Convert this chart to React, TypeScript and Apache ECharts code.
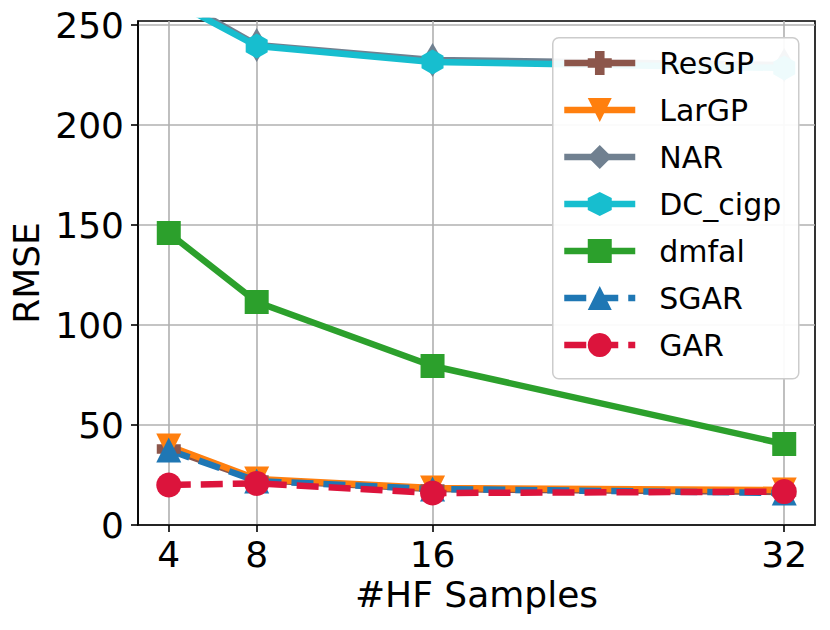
import React, { useEffect, useRef } from "react";
import * as echarts from "echarts";

const xTicks = [4, 8, 16, 32];
const yTicks = [0, 50, 100, 150, 200, 250];
const seriesNames = ["ResGP", "LarGP", "NAR", "DC_cigp", "dmfal", "SGAR", "GAR"];

const resgpValues = [38, 22.5, 18, 16.5];
const largpValues = [39.5, 23, 18.5, 17.5];
const narValues = [265, 240, 232.5, 230];
const dcCigpValues = [263, 239.5, 231.5, 228.5];
const dmfalValues = [146, 111.5, 79.5, 40.5];
const sgarValues = [37.5, 22, 18, 16];
const garValues = [20, 20.8, 16, 16.7];

const FONT = "DejaVu Sans";

const PLUS = "path://M6,0H14V6H20V14H14V20H6V14H0V6H6Z";
const HEX = "path://M0.866,0L1.732,0.5L1.732,1.5L0.866,2L0,1.5L0,0.5Z";

function pairs(vals: number[]) {
  return xTicks.map((x, i) => [x, vals[i]]);
}

const LW = 6.5;

function buildSeries(withData: boolean) {
  const mk = (
    name: string,
    vals: number[],
    color: string,
    symbol: string,
    symbolSize: any,
    dashed: boolean,
    rotate = 0
  ) => ({
    name,
    type: "line",
    data: withData ? pairs(vals) : [],
    symbol,
    symbolSize,
    symbolRotate: rotate,
    showSymbol: true,
    clip: true,
    lineStyle: { color, width: LW, type: dashed ? [22, 10] : "solid" },
    itemStyle: { color, opacity: 1 },
    emphasis: { disabled: true },
  });
  return [
    mk(seriesNames[0], resgpValues, "#8c564b", PLUS, 24, false),
    mk(seriesNames[1], largpValues, "#ff7f0e", "triangle", 25, false, 180),
    mk(seriesNames[2], narValues, "#708090", "diamond", [20, 34], false),
    mk(seriesNames[3], dcCigpValues, "#17becf", HEX, [22, 25], false),
    mk(seriesNames[4], dmfalValues, "#2ca02c", "rect", 24, false),
    mk(seriesNames[5], sgarValues, "#1f77b4", "triangle", 25, true),
    mk(seriesNames[6], garValues, "#dc143c", "circle", 25, true),
  ];
}

const GRID = { left: 138, right: 15, top: 21, bottom: 105 };

export default function App() {
  const ref = useRef<HTMLDivElement>(null);
  const ref2 = useRef<HTMLDivElement>(null);
  useEffect(() => {
    document.body.style.margin = "0";
    const chart = echarts.init(ref.current!, null, { renderer: "svg" });
    const chart2 = echarts.init(ref2.current!, null, { renderer: "svg" });
    chart.setOption({
      animation: false,
      backgroundColor: "#ffffff",
      textStyle: { fontFamily: FONT },
      grid: {
        ...GRID,
        show: true,
        borderColor: "#000000",
        borderWidth: 1.6,
        containLabel: false,
      },
      xAxis: {
        type: "value",
        min: 2.6,
        max: 33.4,
        name: "#HF Samples",
        nameLocation: "middle",
        nameGap: 50,
        nameTextStyle: { fontSize: 36, color: "#000000", fontFamily: FONT },
        axisLine: { show: true, onZero: false, lineStyle: { color: "#000000", width: 1.6 } },
        axisTick: {
          show: true,
          customValues: xTicks,
          length: 7,
          lineStyle: { color: "#000000", width: 1.6 },
        },
        axisLabel: {
          customValues: xTicks,
          fontSize: 36,
          color: "#000000",
          margin: 11,
          fontFamily: FONT,
        },
        splitLine: { show: true, lineStyle: { color: "#b0b0b0", width: 1.6 } },
      },
      yAxis: {
        type: "value",
        min: 0,
        max: 252,
        name: "RMSE",
        nameLocation: "middle",
        nameGap: 85,
        nameTextStyle: { fontSize: 36, color: "#000000", fontFamily: FONT },
        axisLine: { show: true, lineStyle: { color: "#000000", width: 1.6 } },
        axisTick: {
          show: true,
          customValues: yTicks,
          length: 7,
          lineStyle: { color: "#000000", width: 1.6 },
        },
        axisLabel: {
          customValues: yTicks,
          fontSize: 36,
          color: "#000000",
          margin: 14,
          fontFamily: FONT,
        },
        splitLine: { show: true, lineStyle: { color: "#b0b0b0", width: 1.6 } },
      },
      series: buildSeries(true),
    });
    chart2.setOption({
      animation: false,
      textStyle: { fontFamily: FONT },
      grid: { ...GRID, show: false },
      xAxis: { type: "value", min: 2.6, max: 33.4, show: false },
      yAxis: { type: "value", min: 0, max: 252, show: false },
      graphic: [
        {
          type: "rect",
          silent: true,
          z: 0,
          left: 552,
          top: 37,
          shape: { width: 246, height: 341, r: 6 },
          style: { fill: "rgba(255,255,255,0.93)", stroke: "#cccccc", lineWidth: 1.5 },
        },
      ],
      legend: {
        orient: "vertical",
        left: 552,
        top: 37,
        z: 10,
        itemWidth: 71,
        itemHeight: 30,
        itemGap: 17,
        padding: [11, 18, 14, 9],
        selectedMode: false,
        lineStyle: { width: LW },
        textStyle: {
          fontSize: 30,
          color: "#000000",
          fontFamily: FONT,
          padding: [0, 0, 0, 19],
        },
        data: seriesNames,
      },
      series: buildSeries(false),
    });
    return () => {
      chart.dispose();
      chart2.dispose();
    };
  }, []);
  return (
    <div style={{ position: "absolute", left: 0, top: 0, width: 830, height: 630 }}>
      <div
        ref={ref}
        style={{ position: "absolute", left: 0, top: 0, width: 830, height: 630 }}
      />
      <div
        ref={ref2}
        style={{
          position: "absolute",
          left: 0,
          top: 0,
          width: 830,
          height: 630,
          pointerEvents: "none",
        }}
      />
    </div>
  );
}
